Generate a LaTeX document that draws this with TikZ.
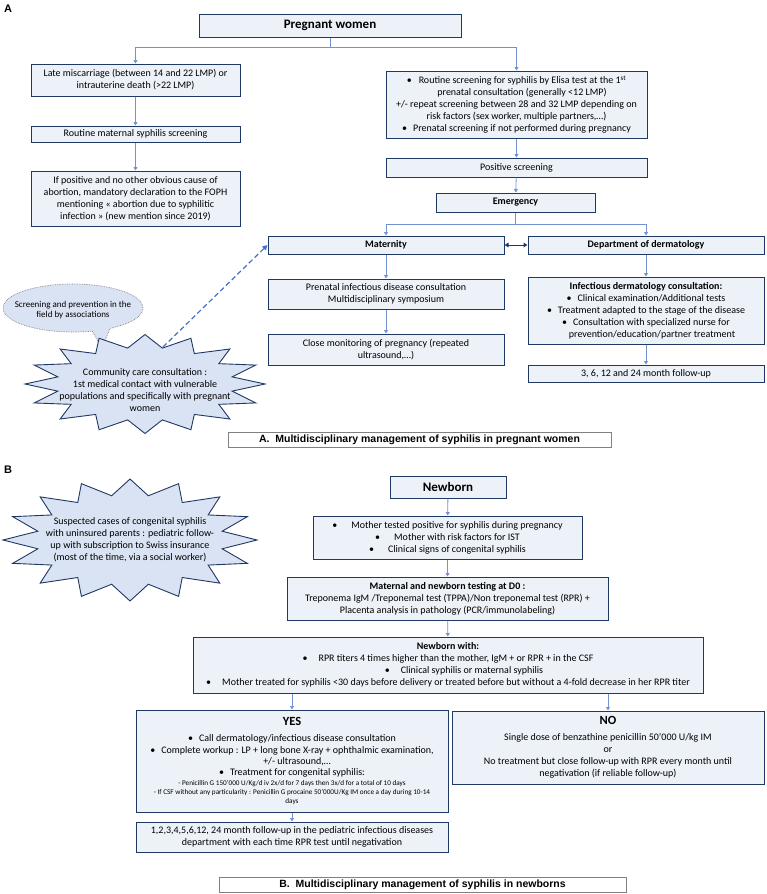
\documentclass[tikz,border=0pt]{standalone}
\usepackage{fontspec}
\setmainfont{Carlito}
\newfontfamily\capfont{Liberation Sans}
\usetikzlibrary{arrows.meta}
\definecolor{navy}{RGB}{32,56,100}
\definecolor{boxfill}{RGB}{237,242,249}
\definecolor{burstfill}{RGB}{218,227,243}
\definecolor{conncol}{RGB}{114,146,208}
\definecolor{dashcol}{RGB}{68,114,196}
\definecolor{capgray}{RGB}{128,128,128}
\newcommand\fsn{\fontsize{10}{12}\selectfont}
\newcommand\fsmall{\fontsize{7.2}{9}\selectfont}
\newcommand\mybul[1][6pt]{\textbullet\hspace{#1}}
\begin{document}
\begin{tikzpicture}[x=1pt,y=-1pt,
  box/.style={draw=navy, fill=boxfill, line width=1pt, inner xsep=2pt, inner ysep=0pt, align=flush center, font=\fsn},
  conn/.style={draw=conncol, line width=0.8pt, -{Triangle[width=4pt,length=3.5pt]}},
  dblarr/.style={draw=navy, line width=1pt, {Triangle[width=4.5pt,length=4pt]}-{Triangle[width=4.5pt,length=4pt]}},
  dasharr/.style={draw=dashcol, line width=1.2pt, dash pattern=on 5pt off 3pt, -{Triangle[width=5pt,length=5pt]}},
  capbox/.style={draw=capgray, fill=white, line width=0.8pt, inner sep=0pt, font=\capfont\bfseries\fontsize{10.5}{12}\selectfont},
  lab/.style={font=\capfont\bfseries\fontsize{11}{13}\selectfont, inner sep=0pt},
  burst/.style={draw=navy, fill=burstfill, line width=0.9pt},
  bubble/.style={draw=capgray, fill=burstfill, densely dotted, line width=0.7pt},
  bursttext/.style={align=center, font=\fsn, inner sep=0pt},
  title/.style={font=\fontsize{13}{15}\selectfont\bfseries},
  btitle/.style={font=\fsn\bfseries}
]
\useasboundingbox (0,0) rectangle (767,894);

% panel labels
\node[lab] (labA) at (8,8.5) {A};
\node[lab] (labB) at (8,470) {B};

% ---------------- Part A ----------------
\node[box, title, text width=258pt, minimum height=23pt] (pw) at (330,25.5) {Pregnant women};
\node[box, text width=205pt, minimum height=32pt] (late) at (135.5,80) {Late miscarriage (between 14 and 22 LMP) or\\intrauterine death (>22 LMP)};
\node[box, text width=205pt, minimum height=16pt] (rout) at (135.5,134) {Routine maternal syphilis screening};
\node[box, text width=205pt, minimum height=55pt] (ifpos) at (135.5,198.5) {If positive and no other obvious cause of\\abortion, mandatory declaration to the FOPH\\mentioning « abortion due to syphilitic\\infection » (new mention since 2019)};
\node[box, text width=257pt, minimum height=67pt] (scr) at (516.5,104.5) {\mybul[7pt]Routine screening for syphilis by Elisa test at the 1\textsuperscript{st}\\\hspace*{11pt}prenatal consultation (generally <12 LMP)\\+/- repeat screening between 28 and 32 LMP depending on\\risk factors (sex worker, multiple partners,…)\\\mybul Prenatal screening if not performed during pregnancy};
\node[box, text width=257pt, minimum height=19pt] (pos) at (516.5,167.5) {Positive screening};
\node[box, btitle, text width=155pt, minimum height=19pt] (emer) at (515.5,202.5) {Emergency};
\node[box, btitle, text width=232pt, minimum height=18pt] (mat) at (386,245) {Maternity};
\node[box, btitle, text width=232pt, minimum height=18pt] (derm) at (646,245) {Department of dermatology};
\node[box, text width=232pt, minimum height=30pt] (pren) at (386,294) {Prenatal infectious disease consultation\\Multidisciplinary symposium};
\node[box, text width=232pt, minimum height=31pt] (close) at (386,349.5) {Close monitoring of pregnancy (repeated\\ultrasound,…)};
\node[box, text width=232pt, minimum height=67pt] (infd) at (646,310.5) {{\bfseries Infectious dermatology consultation:}\\\mybul Clinical examination/Additional tests\\\mybul Treatment adapted to the stage of the disease\\\mybul Consultation with specialized nurse for\\\hspace*{12pt}prevention/education/partner treatment};
\node[box, text width=232pt, minimum height=17pt] (fu) at (646,373.5) {3, 6, 12 and 24 month follow-up};
\node[capbox, minimum width=383pt, minimum height=15pt] (capA) at (419.5,439.5) {A.\ \ Multidisciplinary management of syphilis in pregnant women};

% connectors part A
\draw[conn] (pw.south) -- ++(0,10) -| (late.north);
\draw[conn] (pw.south) ++(0,10) -| (scr.north);
\draw[conn] (late) -- (rout);
\draw[conn] (rout) -- (ifpos);
\draw[conn] (scr) -- (pos);
\draw[conn] (pos) -- (emer);
\draw[conn] (emer.south) -- ++(0,12) -| (mat.north);
\draw[conn] (emer.south) ++(0,12) -| (derm.north);
\draw[conn] (mat) -- (pren);
\draw[conn] (pren) -- (close);
\draw[conn] (derm) -- (infd);
\draw[conn] (infd) -- (fu);
\draw[dblarr] (mat.east) -- (derm.west);

% speech bubble
\draw[bubble] (73,308) ++(74:70 and 24) arc[start angle=74, end angle=418, x radius=70, y radius=24] -- (102,348) -- cycle;
\node[font=\fontsize{9}{10.5}\selectfont, align=center, inner sep=0pt] (scrtxt) at (73,310) {Screening and prevention in the\\field by associations};

% starburst A
\draw[burst] plot[samples at={0,...,31}, variable=\n] ({145+(120-31.2*mod(\n,2))*sin(\n*11.25)}, {384-(49.5-12.9*mod(\n,2))*cos(\n*11.25)}) -- cycle;
\node[bursttext] (cc) at (145,390) {Community care consultation :\\1st medical contact with vulnerable\\populations and specifically with pregnant\\women};
\coordinate (ccTip) at (163,347);
\draw[dasharr] (ccTip) -- (mat.west);

% ---------------- Part B ----------------
\draw[burst] plot[samples at={0,...,31}, variable=\n] ({130+(127-33*mod(\n,2))*sin(\n*11.25)}, {540-(61-15.9*mod(\n,2))*cos(\n*11.25)}) -- cycle;
\node[bursttext] (sus) at (130,540) {Suspected cases of congenital syphilis\\with uninsured parents : pediatric follow-\\up with subscription to Swiss insurance\\(most of the time, via a social worker)};

\node[box, title, text width=112pt, minimum height=22pt] (nb) at (448,487) {Newborn};
\node[box, text width=265pt, minimum height=43pt] (moth) at (447.5,537.5) {\mybul[14pt]Mother tested positive for syphilis during pregnancy\\\mybul[14pt]Mother with risk factors for IST\\\mybul[14pt]Clinical signs of congenital syphilis};
\node[box, text width=317pt, minimum height=43pt] (mtest) at (447.5,598.5) {{\bfseries Maternal and newborn testing at D0 :}\\Treponema IgM /Treponemal test (TPPA)/Non treponemal test (RPR) +\\Placenta analysis in pathology (PCR/immunolabeling)};
\node[box, text width=506pt, minimum height=56pt] (nbw) at (448,665) {{\bfseries Newborn with:}\\\mybul[11pt]RPR titers 4 times higher than the mother, IgM + or RPR + in the CSF\\\hspace*{32pt}\mybul[11pt]Clinical syphilis or maternal syphilis\\\mybul[11pt]Mother treated for syphilis <30 days before delivery or treated before but without a 4-fold decrease in her RPR titer};
\node[box, text width=308pt, minimum height=102pt] (yes) at (292,761) {{\fontsize{12.5}{15}\selectfont\bfseries YES\par}\vspace{5pt}{\fontsize{10}{11.4}\selectfont\mybul Call dermatology/infectious disease consultation\\\mybul Complete workup : LP + long bone X-ray + ophthalmic examination,\\\hspace*{10pt}+/- ultrasound,…\\\mybul Treatment for congenital syphilis:\par}\vspace{1pt}{\fsmall - Penicillin G 150’000 U/Kg/d iv 2x/d for 7 days then 3x/d for a total of 10 days\\- If CSF without any particularity : Penicillin G procaine 50’000U/Kg IM once a day during 10-14\\days\par}};
\node[box, text width=308pt, minimum height=73pt] (no) at (608,747.5) {{\fontsize{12.5}{15}\selectfont\bfseries NO\par}\vspace{4pt}{\fsn Single dose of benzathine penicillin 50’000 U/kg IM\\or\\No treatment but close follow-up with RPR every month until\\negativation (if reliable follow-up)\par}};
\node[box, text width=308pt, minimum height=30pt] (fin) at (292,837) {1,2,3,4,5,6,12, 24 month follow-up in the pediatric infectious diseases\\department with each time RPR test until negativation};
\node[capbox, minimum width=407pt, minimum height=15pt] (capB) at (422.5,884.5) {B.\ \ Multidisciplinary management of syphilis in newborns};

% connectors part B
\draw[conn] (nb) -- (moth);
\draw[conn] (moth) -- (mtest);
\draw[conn] (mtest) -- (nbw);
\draw[conn] (nbw.south -| yes.north) -- (yes.north);
\draw[conn] (nbw.south -| no.north) -- (no.north);
\draw[conn] (yes) -- (fin);
\end{tikzpicture}
\end{document}
